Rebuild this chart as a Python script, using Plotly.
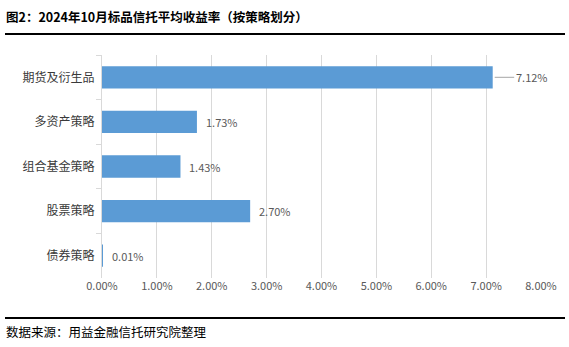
import plotly.graph_objects as go

categories = ["期货及衍生品", "多资产策略", "组合基金策略", "股票策略", "债券策略"]
returns_pct = [7.12, 1.73, 1.43, 2.70, 0.01]
x_ticks = [0, 1, 2, 3, 4, 5, 6, 7, 8]
x_tick_labels = [f"{v:.2f}%" for v in x_ticks]

title_text = "图2：2024年10月标品信托平均收益率（按策略划分）"
source_text = "数据来源：用益金融信托研究院整理"

BAR = "#5B9BD5"
GRID = "#D9D9D9"
TXT = "#595959"
FONT = "Noto Sans CJK SC"

W, H = 569, 347
ML, MR, MT, MB = 102, 28, 55, 69
PW, PH = W - ML - MR, H - MT - MB


def px_x(px):
    """Pixel column -> paper x."""
    return (px - ML) / PW


def px_y(py):
    """Pixel row (from top) -> paper y."""
    return (H - MB - py) / PH


fig = go.Figure()
fig.add_trace(go.Bar(
    x=returns_pct, y=categories, orientation="h",
    marker=dict(color=BAR, line=dict(width=0)),
    width=0.5,
    hoverinfo="skip",
))

# value labels; the longest bar gets a short leader line
for cat, v in zip(categories, returns_pct):
    if v == max(returns_pct):
        fig.add_annotation(x=v, y=cat, xref="x", yref="y", text=f"{v:.2f}%",
                           showarrow=True, arrowhead=0, arrowwidth=1, arrowcolor="#A6A6A6",
                           ax=39, ay=0, standoff=2,
                           font=dict(family=FONT, size=11, color=TXT))
    else:
        fig.add_annotation(x=v, y=cat, xref="x", yref="y", text=f"{v:.2f}%",
                           showarrow=False, xanchor="left", xshift=7,
                           font=dict(family=FONT, size=11, color=TXT))

fig.add_annotation(x=px_x(4), y=px_y(17), xref="paper", yref="paper", xanchor="left", yanchor="middle",
                   text=f"<b>{title_text}</b>", showarrow=False,
                   font=dict(family=FONT, size=12.5, color="#000000"))
fig.add_annotation(x=px_x(4), y=px_y(331), xref="paper", yref="paper", xanchor="left", yanchor="middle",
                   text=source_text, showarrow=False,
                   font=dict(family=FONT, size=12.5, color="#000000"))

# rules below the title and above the source note
for row in (34, 318):
    fig.add_shape(type="line", xref="paper", yref="paper",
                  x0=px_x(5), x1=px_x(565), y0=px_y(row), y1=px_y(row),
                  line=dict(color="#000000", width=2))

fig.update_layout(
    width=W, height=H,
    margin=dict(l=ML, r=MR, t=MT, b=MB),
    paper_bgcolor="white", plot_bgcolor="white",
    showlegend=False,
    font=dict(family=FONT, color=TXT),
    xaxis=dict(range=[0, 8], tickvals=x_ticks, ticktext=x_tick_labels,
               showgrid=True, gridcolor=GRID, gridwidth=1, zeroline=False,
               showline=False, ticks="", tickfont=dict(size=11, color=TXT), fixedrange=True),
    yaxis=dict(autorange="reversed", showline=True, linecolor=GRID, linewidth=1,
               ticks="outside", tickson="boundaries", ticklen=5, tickcolor=GRID,
               showgrid=False, tickfont=dict(size=12, color="#3A3A3A"), ticklabelstandoff=4,
               fixedrange=True),
)

fig.write_html("out.html")
